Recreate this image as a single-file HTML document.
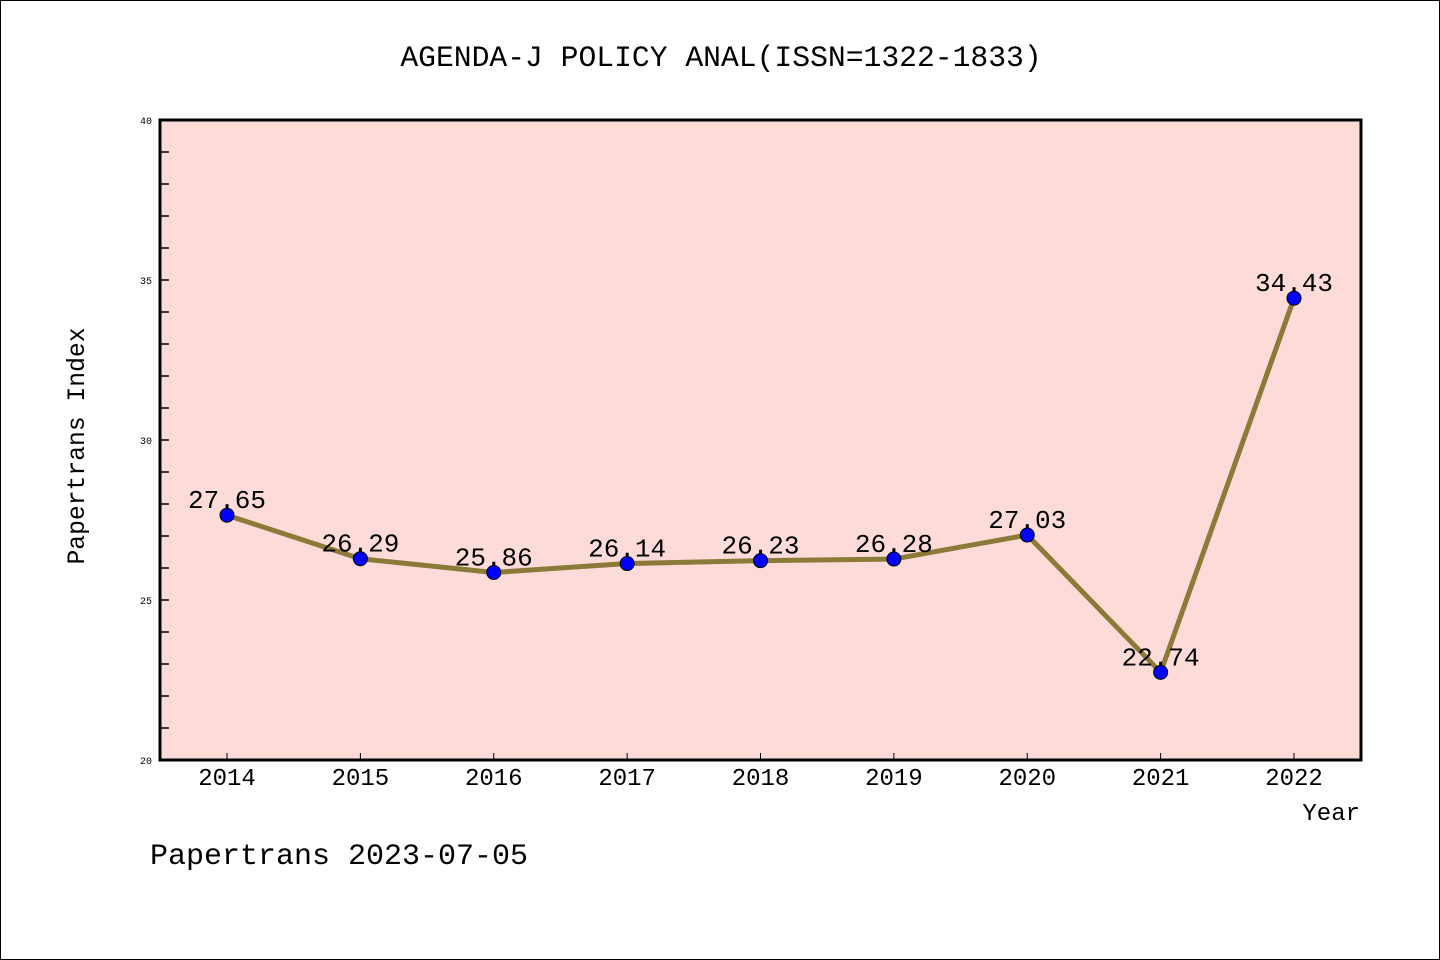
<!DOCTYPE html>
<html><head><meta charset="utf-8"><style>
html,body{margin:0;padding:0;background:#fff}
svg{display:block}
text{font-family:"WenQuanYi Zen Hei Mono","Liberation Mono",monospace}
</style></head><body>
<svg id="chart" width="1440" height="960">
<rect x="0.5" y="0.5" width="1439" height="959" fill="#fff" stroke="#000"/>
<text x="721" y="66" font-size="29.7" text-anchor="middle">AGENDA-J POLICY ANAL(ISSN=1322-1833)</text>
<rect x="160" y="120" width="1201" height="640" fill="#fddbd8"/>
<g id="ticks"></g>
<g id="series"></g>
<rect x="160" y="120" width="1201" height="640" fill="none" stroke="#000" stroke-width="3"/>
<text transform="translate(84,446) rotate(-90)" font-size="24.7" text-anchor="middle">Papertrans Index</text>
<text x="1360" y="820" font-size="24" text-anchor="end">Year</text>
<text x="150" y="864" font-size="30">Papertrans 2023-07-05</text>
</svg>
<script>
const years=["2014","2015","2016","2017","2018","2019","2020","2021","2022"];
const values=[27.65,26.29,25.86,26.14,26.23,26.28,27.03,22.74,34.43];
const yTicks=[20,25,30,35,40];
const NS="http://www.w3.org/2000/svg";
const yMin=20,yMax=40;
function ys(v){return 760-(v-yMin)/(yMax-yMin)*640;}
function xs(i){return 227+i*(1294-227)/(years.length-1);}
function mk(t,a,p){const e=document.createElementNS(NS,t);for(const k in a)e.setAttribute(k,a[k]);p.appendChild(e);return e;}
const tg=document.getElementById('ticks'),sg=document.getElementById('series');
for(let v=yMin+1;v<yMax;v++){
  const l=mk('line',{x1:161,x2:169,y1:ys(v),y2:ys(v),stroke:'#000','stroke-width':1.5},tg);
  
  
}
yTicks.forEach(v=>{
  const t=mk('text',{x:152,y:ys(v)+4,'font-size':10,'text-anchor':'end'},tg);
  t.textContent=v;
  
  
});
years.forEach((y,i)=>{
  const l=mk('line',{x1:xs(i),x2:xs(i),y1:759,y2:753,stroke:'#000','stroke-width':1},tg);
  
  
  const t=mk('text',{x:xs(i),y:785,'font-size':24,'text-anchor':'middle'},tg);
  t.textContent=y;
  
  
});
const pts=values.map((v,i)=>xs(i)+','+ys(v)).join(' ');
const pl=mk('polyline',{points:pts,fill:'none',stroke:'#8b7a38','stroke-width':5,'stroke-linejoin':'round'},sg);


values.forEach((v,i)=>{
  const c=mk('circle',{cx:xs(i),cy:ys(v),r:7,fill:'#0000ff',stroke:'#000','stroke-width':1},sg);
  
  
  const t=mk('text',{x:xs(i),y:ys(v)-7,'font-size':26,'text-anchor':'middle'},sg);
  t.textContent=v.toFixed(2);
  
  
});
</script>
</body></html>
